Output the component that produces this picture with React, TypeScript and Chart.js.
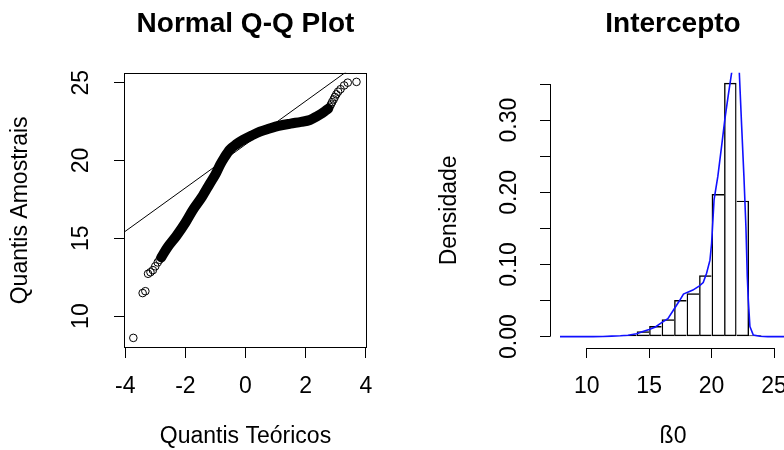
import React, { useEffect, useRef } from "react";
import { Chart, registerables } from "chart.js";

Chart.register(...registerables);

const FONT_FAMILY = "'Liberation Sans', Arial, Helvetica, sans-serif";

// ---------------- Normal Q-Q plot ----------------
const qqTitle = "Normal Q-Q Plot";
const qqXLabel = "Quantis Teóricos";
const qqYLabel = "Quantis Amostrais";
const qqXTicks = [-4, -2, 0, 2, 4];
const qqXTickLabels = ["-4", "-2", "0", "2", "4"];
const qqYTicks = [10, 15, 20, 25];
const qqYTickLabels = ["10", "15", "20", "25"];
const qqXRange = [-4.04, 4.04];
const qqYRange = [7.95, 25.64];
// qqline end points
const qqLineX = [-4.04, 4.04];
const qqLineY = [15.39, 26.66];
// dense middle part of the sample quantiles
const qqBandX = [-2.8, -2.6, -2.3, -2.0, -1.74, -1.45, -1.19, -1.0, -0.85, -0.7, -0.52, -0.3, -0.08, 0.2, 0.48, 0.8, 1.1, 1.5, 1.85, 2.14, 2.36, 2.5, 2.65, 2.75];
const qqBandY = [13.78, 14.4, 15.15, 16.0, 16.85, 17.65, 18.5, 19.1, 19.7, 20.2, 20.7, 21.05, 21.32, 21.6, 21.85, 22.05, 22.22, 22.37, 22.48, 22.6, 22.82, 22.98, 23.18, 23.32];
// individual tail points
const qqTailX = [-3.73, -3.42, -3.33, -3.24, -3.16, -3.08, -3.0, -2.92, -2.86, 2.8, 2.84, 2.88, 2.93, 2.97, 3.02, 3.08, 3.16, 3.28, 3.4, 3.69];
const qqTailY = [8.6, 11.48, 11.6, 12.72, 12.82, 12.95, 13.2, 13.45, 13.62, 23.45, 23.6, 23.75, 23.92, 24.08, 24.25, 24.42, 24.58, 24.82, 25.0, 25.05];

// ---------------- Histogram ----------------
const histTitle = "Intercepto";
const histXLabel = "ß0";
const histYLabel = "Densidade";
const histBreaks = [12, 13, 14, 15, 16, 17, 18, 19, 20, 21, 22, 23, 24];
const histDensity = [0.0006, 0.0024, 0.0075, 0.0148, 0.024, 0.0508, 0.0601, 0.085, 0.1976, 0.3518, 0.1884, 0.0019];
const densX = [7.86, 10.5, 11.3, 12.0, 12.7, 13.3, 14.0, 14.5, 15.0, 15.5, 16.0, 16.5, 16.95, 17.4, 17.75, 18.0, 18.5, 19.0, 19.33, 19.6, 19.87, 20.0, 20.2, 20.5, 20.81, 21.07, 21.34, 21.61, 21.85, 22.0, 22.12, 22.22, 22.41, 22.59, 22.75, 22.86, 22.94, 23.07, 23.34, 23.87, 24.5, 25.95];
const densY = [0, 0, 0.0003, 0.0008, 0.0012, 0.002, 0.004, 0.0072, 0.01, 0.0135, 0.0195, 0.025, 0.037, 0.049, 0.059, 0.061, 0.0645, 0.07, 0.075, 0.088, 0.106, 0.129, 0.19, 0.222, 0.265, 0.302, 0.335, 0.366, 0.392, 0.4, 0.392, 0.366, 0.291, 0.222, 0.152, 0.083, 0.051, 0.0139, 0.0024, 0.0005, 0.0001, 0];
const histXTicks = [10, 15, 20, 25];
const histXTickLabels = ["10", "15", "20", "25"];
const histYTicks = [0, 0.05, 0.1, 0.15, 0.2, 0.25, 0.3, 0.35];
const histYTickLabels = ["0.00", "", "0.10", "", "0.20", "", "0.30", ""];
const histXRange = [7.06, 26.76];
const histYRange = [-0.0157, 0.3657];

const tickFont = { family: FONT_FAMILY, size: 23 };
const titleFont = { family: FONT_FAMILY, size: 28, weight: "bold" as const };

function xScale(range: number[], ticks: number[], labels: string[], title: string, height: number) {
  return {
    type: "linear" as const,
    position: "bottom" as const,
    min: range[0],
    max: range[1],
    offset: false,
    afterBuildTicks: (axis: any) => {
      axis.ticks = ticks.map((v) => ({ value: v }));
    },
    afterFit: (axis: any) => {
      axis.height = height;
    },
    ticks: {
      font: tickFont,
      color: "#000",
      padding: 14.9,
      autoSkip: false,
      maxRotation: 0,
      minRotation: 0,
      callback: (_v: any, i: number) => labels[i],
    },
    grid: { display: true, drawOnChartArea: false, drawTicks: true, tickLength: 10, color: "#000", lineWidth: 1, offset: false },
    border: { display: false },
    title: { display: true, text: title, font: tickFont, color: "#000", padding: { top: 0, bottom: 0 } },
  };
}

function yScale(range: number[], ticks: number[], labels: string[], title: string, width: number, tickPad: number, titlePad: number) {
  return {
    type: "linear" as const,
    position: "left" as const,
    min: range[0],
    max: range[1],
    afterBuildTicks: (axis: any) => {
      axis.ticks = ticks.map((v) => ({ value: v }));
    },
    afterFit: (axis: any) => {
      axis.width = width;
    },
    ticks: {
      font: tickFont,
      color: "#000",
      padding: tickPad,
      autoSkip: false,
      minRotation: 90,
      maxRotation: 90,
      crossAlign: "center" as const,
      callback: (_v: any, i: number) => labels[i],
    },
    grid: { display: true, drawOnChartArea: false, drawTicks: true, tickLength: 10, color: "#000", lineWidth: 1 },
    border: { display: false },
    title: { display: true, text: title, font: tickFont, color: "#000", padding: { top: titlePad, bottom: 0 } },
  };
}

function titleOpts(text: string) {
  return {
    display: true,
    text,
    font: titleFont,
    color: "#000",
    fullSize: false,
    padding: { top: 7, bottom: 32.1 },
  };
}

const qqBoxPlugin = {
  id: "qqBox",
  afterDraw(chart: any) {
    const { ctx, chartArea: a } = chart;
    ctx.save();
    ctx.strokeStyle = "#000";
    ctx.lineWidth = 1;
    const l = Math.round(a.left) + 0.5;
    const t = Math.round(a.top) + 0.5;
    const r = Math.round(a.right) - 0.5;
    const b = Math.round(a.bottom) - 0.5;
    ctx.strokeRect(l, t, r - l, b - t);
    ctx.restore();
  },
};

const histAxisPlugin = {
  id: "histAxis",
  afterDraw(chart: any) {
    const { ctx, chartArea: a, scales } = chart;
    const x = scales.x;
    const y = scales.y;
    ctx.save();
    ctx.strokeStyle = "#000";
    ctx.lineWidth = 1;
    const lx = Math.round(a.left) + 0.5;
    const by = Math.round(a.bottom) + 0.5;
    ctx.beginPath();
    ctx.moveTo(lx, y.getPixelForValue(histYTicks[0]));
    ctx.lineTo(lx, y.getPixelForValue(histYTicks[histYTicks.length - 1]));
    ctx.moveTo(x.getPixelForValue(histXTicks[0]), by);
    ctx.lineTo(x.getPixelForValue(histXTicks[histXTicks.length - 1]), by);
    ctx.stroke();
    ctx.restore();
  },
};

// each shared bar edge is drawn once, by the taller of the two bars
function barBorder(c: any) {
  const i = c.dataIndex;
  const h = histDensity;
  const n = h.length;
  const w = 1.4;
  return {
    top: w,
    bottom: w,
    left: i === 0 || h[i] >= h[i - 1] ? w : 0,
    right: i === n - 1 || h[i] > h[i + 1] ? w : 0,
  };
}

export default function App() {
  const leftRef = useRef<HTMLCanvasElement>(null);
  const rightRef = useRef<HTMLCanvasElement>(null);

  useEffect(() => {
    Chart.defaults.font.family = FONT_FAMILY;
    Chart.defaults.color = "#000";

    const qqLine = qqLineX.map((x, i) => ({ x, y: qqLineY[i] }));
    const qqBand = qqBandX.map((x, i) => ({ x, y: qqBandY[i] }));
    const qqTail = qqTailX.map((x, i) => ({ x, y: qqTailY[i] }));

    const left = new Chart(leftRef.current as HTMLCanvasElement, {
      type: "scatter",
      data: {
        datasets: [
          {
            type: "line",
            data: qqLine,
            borderColor: "#000",
            borderWidth: 1,
            pointRadius: 0,
          } as any,
          {
            type: "line",
            data: qqBand,
            borderColor: "#000",
            borderWidth: 10,
            pointRadius: 0,
            cubicInterpolationMode: "monotone",
            borderCapStyle: "round",
            borderJoinStyle: "round",
          } as any,
          {
            type: "scatter",
            data: qqTail,
            pointRadius: 3.8,
            pointStyle: "circle",
            borderColor: "#000",
            backgroundColor: "rgba(0,0,0,0)",
            borderWidth: 1,
          } as any,
        ],
      },
      options: {
        animation: false,
        responsive: false,
        events: [],
        layout: { padding: { left: 0, right: 25, top: 0, bottom: 0 } },
        plugins: {
          legend: { display: false },
          tooltip: { enabled: false },
          title: titleOpts(qqTitle) as any,
        },
        scales: {
          x: xScale(qqXRange, qqXTicks, qqXTickLabels, qqXLabel, 102) as any,
          y: yScale(qqYRange, qqYTicks, qqYTickLabels, qqYLabel, 124, 19.2, 7.2) as any,
        },
      },
      plugins: [qqBoxPlugin],
    });

    const bars = histDensity.map((d, i) => ({ x: (histBreaks[i] + histBreaks[i + 1]) / 2, y: d }));
    const dens = densX.map((x, i) => ({ x, y: densY[i] }));

    const right = new Chart(rightRef.current as HTMLCanvasElement, {
      type: "bar",
      data: {
        datasets: [
          {
            type: "line",
            data: dens,
            borderColor: "#1010ff",
            borderWidth: 1.6,
            pointRadius: 0,
            tension: 0,
            order: 0,
          } as any,
          {
            type: "bar",
            data: bars,
            backgroundColor: "rgba(255,255,255,0)",
            borderColor: "#000",
            borderWidth: barBorder,
            borderSkipped: false,
            inflateAmount: 0,
            barPercentage: 1,
            categoryPercentage: 1,
            order: 1,
          } as any,
        ],
      },
      options: {
        animation: false,
        responsive: false,
        events: [],
        layout: { padding: { left: 0, right: 16, top: 0, bottom: 0 } },
        plugins: {
          legend: { display: false },
          tooltip: { enabled: false },
          title: titleOpts(histTitle) as any,
        },
        scales: {
          x: xScale(histXRange, histXTicks, histXTickLabels, histXLabel, 102) as any,
          y: yScale(histYRange, histYTicks, histYTickLabels, histYLabel, 158, 7.6, 44.2) as any,
        },
      },
      plugins: [histAxisPlugin],
    });

    return () => {
      left.destroy();
      right.destroy();
    };
  }, []);

  return (
    <div
      style={{
        position: "fixed",
        left: 0,
        top: 0,
        width: 784,
        height: 450,
        overflow: "hidden",
        background: "#fff",
      }}
    >
      <canvas
        ref={leftRef}
        width={392}
        height={450}
        style={{ position: "absolute", left: 0, top: 0, width: 392, height: 450 }}
      />
      <canvas
        ref={rightRef}
        width={420}
        height={450}
        style={{ position: "absolute", left: 392, top: 0, width: 420, height: 450 }}
      />
    </div>
  );
}
